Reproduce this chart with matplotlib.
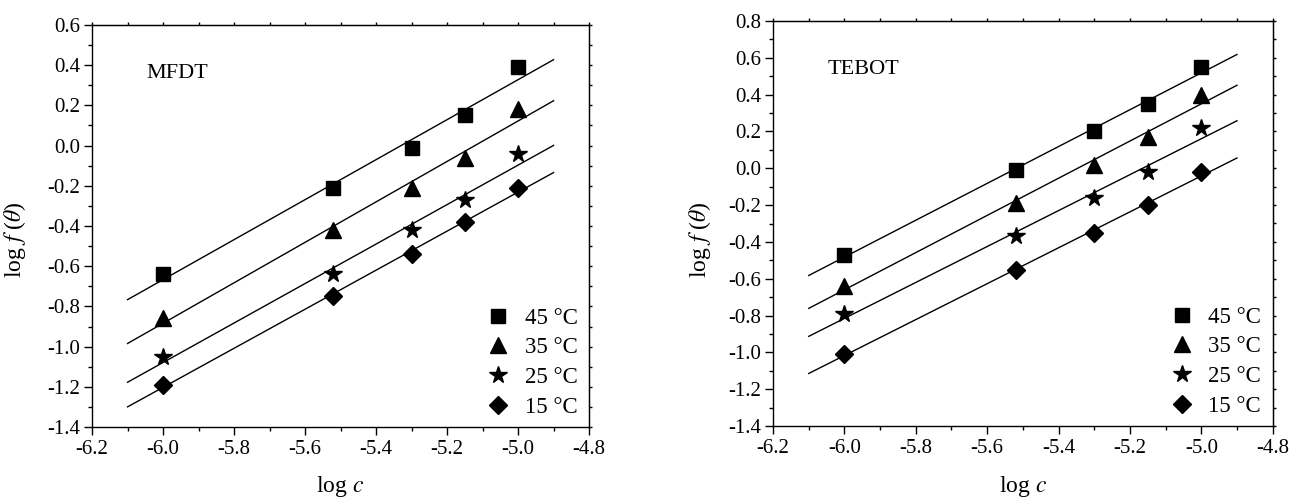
import numpy as np
import matplotlib
matplotlib.use("Agg")
import matplotlib.pyplot as plt
from matplotlib.ticker import MultipleLocator, FuncFormatter, NullFormatter

plt.rcParams['font.family'] = ['Liberation Serif', 'DejaVu Serif']
plt.rcParams['mathtext.fontset'] = 'stix'

# log c values (same for both inhibitors)
log_c = [-6.0, -5.52, -5.3, -5.15, -5.0]
temps = ['45 °C', '35 °C', '25 °C', '15 °C']
markers = ['s', '^', '*', 'D']
msizes = [9.5, 12, 13, 9.5]

# log f(theta)
mfdt = {
    '45 °C': [-0.64, -0.21, -0.01, 0.15, 0.39],
    '35 °C': [-0.86, -0.42, -0.21, -0.06, 0.18],
    '25 °C': [-1.05, -0.64, -0.42, -0.27, -0.04],
    '15 °C': [-1.19, -0.75, -0.54, -0.38, -0.21],
}
tebot = {
    '45 °C': [-0.47, -0.01, 0.20, 0.35, 0.55],
    '35 °C': [-0.64, -0.19, 0.02, 0.17, 0.40],
    '25 °C': [-0.79, -0.37, -0.16, -0.02, 0.22],
    '15 °C': [-1.01, -0.55, -0.35, -0.20, -0.02],
}
fit_range = [-6.1, -4.9]

fmt = FuncFormatter(lambda v, p: f'{v:.1f}'.replace('\u2212', '-'))


def draw_panel(ax, data, name, ylim, ylab_pos, xlab_y):
    x = np.array(log_c)
    xf = np.array(fit_range)
    for t, m, ms in zip(temps, markers, msizes):
        y = np.array(data[t])
        ax.plot(x, y, linestyle='none', marker=m, markersize=ms, color='black', label=t)
        k, b = np.polyfit(x, y, 1)
        ax.plot(xf, k * xf + b, color='black', linewidth=1.0)

    ax.set_xlim(-6.2, -4.8)
    ax.set_ylim(*ylim)
    ax.xaxis.set_major_locator(MultipleLocator(0.2))
    ax.xaxis.set_minor_locator(MultipleLocator(0.1))
    ax.yaxis.set_major_locator(MultipleLocator(0.2))
    ax.yaxis.set_minor_locator(MultipleLocator(0.1))
    ax.xaxis.set_major_formatter(fmt)
    ax.yaxis.set_major_formatter(fmt)
    ax.tick_params(which='major', direction='out', length=5.5, width=1, labelsize=15)
    ax.tick_params(which='minor', direction='out', length=3, width=1)
    ax.tick_params(axis='x', which='major', pad=4)
    ax.tick_params(axis='y', which='major', pad=3)
    for s in ax.spines.values():
        s.set_linewidth(1.0)

    # small ticks on top and right, no labels
    top = ax.secondary_xaxis('top')
    top.xaxis.set_major_locator(MultipleLocator(0.1))
    top.xaxis.set_major_formatter(NullFormatter())
    top.tick_params(direction='out', length=2.5, width=1)
    right = ax.secondary_yaxis('right')
    right.yaxis.set_major_locator(MultipleLocator(0.1))
    right.yaxis.set_major_formatter(NullFormatter())
    right.tick_params(direction='out', length=2.5, width=1)

    ax.set_xlabel(r'log $c$', fontsize=17)
    ax.xaxis.set_label_coords(0.5, xlab_y)
    ax.set_ylabel(r'log $f$ ($\theta$)', fontsize=17)
    ax.yaxis.set_label_coords(*ylab_pos)
    ax.text(0.11, 0.88, name, transform=ax.transAxes, fontsize=16, va='center')

    ax.legend(loc='lower right', frameon=False, fontsize=16.5, handletextpad=0.55,
              labelspacing=0.38, borderaxespad=0.0, handlelength=1.2,
              bbox_to_anchor=(0.995, 0.0))


fig = plt.figure(figsize=(12.91, 5.0), dpi=100)
ax1 = fig.add_axes([0.0713, 0.146, 0.385, 0.804])
ax2 = fig.add_axes([0.5988, 0.148, 0.387, 0.810])

draw_panel(ax1, mfdt, 'MFDT', (-1.4, 0.6), (-0.129, 0.465), -0.117)
draw_panel(ax2, tebot, 'TEBOT', (-1.4, 0.8), (-0.12, 0.459), -0.118)

fig.savefig('out.png', dpi=100)
